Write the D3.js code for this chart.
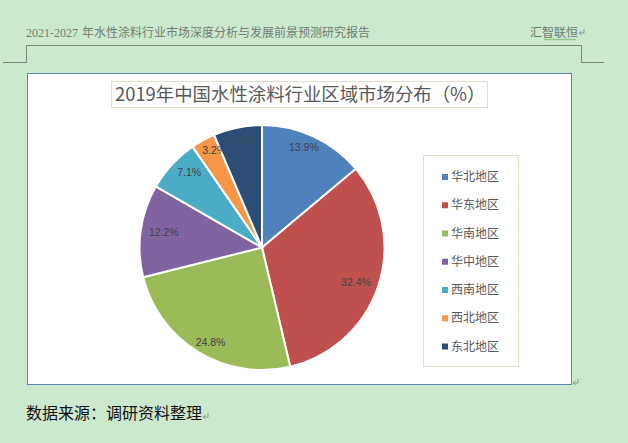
<!DOCTYPE html>
<html>
<head>
<meta charset="utf-8">
<script src="https://cdnjs.cloudflare.com/ajax/libs/d3/7.8.5/d3.min.js"></script>
<style>
    html, body { margin: 0; padding: 0; background: #cce8cf; overflow: hidden; }
    text { font-family: "Noto Sans CJK SC", sans-serif; }
</style>
</head>
<body>
<div id="chart"></div>
<script>
// values
var regions = ["华北地区", "华东地区", "华南地区", "华中地区", "西南地区", "西北地区", "东北地区"];
var shares = [13.9, 32.4, 24.8, 12.2, 7.1, 3.2, 6.4];
var colors = ["#4f81bd", "#c0504d", "#9bbb59", "#8064a2", "#4bacc6", "#f79646", "#2c4d75"];
var labelColors = ["#404040", "#404040", "#404040", "#404040", "#404040", "#404040", "#3f4f63"];

var svgWidth = 628;
var svgHeight = 443;

var svg = d3.select("#chart")
    .append("svg")
    .attr("width", svgWidth)
    .attr("height", svgHeight)
    .style("display", "block");

// page header
svg.append("text")
    .attr("x", 26)
    .attr("y", 36.5)
    .attr("font-size", 12)
    .attr("fill", "#737d73")
    .style("font-family", "'Liberation Serif'")
    .text("2021-2027");

svg.append("text")
    .attr("x", 82)
    .attr("y", 36.5)
    .attr("font-size", 12)
    .attr("fill", "#737d73")
    .text("年水性涂料行业市场深度分析与发展前景预测研究报告");

svg.append("text")
    .attr("x", 530)
    .attr("y", 36.5)
    .attr("font-size", 12)
    .attr("fill", "#6f7a6f")
    .text("汇智联恒");

// wavy spell check line under the name
svg.append("path")
    .attr("d", "M544 40 l2 -1 l2 1 l2 -1 l2 1 l2 -1 l2 1 l2 -1 l2 1 l2 -1 l2 1 l2 -1 l2 1 l2 -1 l2 1 l2 -1 l2 1")
    .attr("fill", "none")
    .attr("stroke", "#6fae5a")
    .attr("stroke-width", 0.8);

// paragraph marks
function returnMark(x, y, color) {
    svg.append("path")
        .attr("d", `M${x + 5} ${y - 4} V${y} H${x}  M${x + 2.5} ${y - 2} L${x} ${y} L${x + 2.5} ${y + 2}`)
        .attr("fill", "none")
        .attr("stroke", color)
        .attr("stroke-width", 0.8);
}
returnMark(579, 33, "#808a80");
returnMark(573, 383, "#808a80");
returnMark(203, 417, "#808a80");

// header rule
svg.append("path")
    .attr("d", "M3 62.5 H26.5 V45.5 H581.5 V62.5 H604")
    .attr("fill", "none")
    .attr("stroke", "#7a857a")
    .attr("stroke-width", 1);

// chart frame
svg.append("rect")
    .attr("x", 27.5)
    .attr("y", 73.5)
    .attr("width", 544)
    .attr("height", 311)
    .attr("fill", "#fff")
    .attr("stroke", "#5b88ad")
    .attr("stroke-width", 1);

// title box
svg.append("rect")
    .attr("x", 111.5)
    .attr("y", 81.5)
    .attr("width", 376)
    .attr("height", 26)
    .attr("fill", "#fff")
    .attr("stroke", "#e0e0cc")
    .attr("stroke-width", 1);

svg.append("text")
    .attr("x", 115)
    .attr("y", 101)
    .attr("font-size", 18.4)
    .attr("fill", "#595959")
    .text("2019年中国水性涂料行业区域市场分布（%）");

// pie
var radius = 122.5;
var pieGroup = svg.append("g")
    .attr("transform", "translate(262, 247.5)");

var pie = d3.pie().sort(null);
var arc = d3.arc().innerRadius(0).outerRadius(radius);
var labelArc = d3.arc().innerRadius(radius * 0.86).outerRadius(radius * 0.86);

var slices = pie(shares);

pieGroup.selectAll("path")
    .data(slices)
    .enter()
    .append("path")
    .attr("d", arc)
    .attr("fill", (d, i) => colors[i])
    .attr("stroke", "#fff")
    .attr("stroke-width", 2);

// labels sit on a slightly squashed ring in the original
pieGroup.selectAll("text")
    .data(slices)
    .enter()
    .append("text")
    .attr("transform", function (d) {
        var c = labelArc.centroid(d);
        return `translate(${c[0] * 0.94}, ${c[1] * 1.05})`;
    })
    .attr("text-anchor", "middle")
    .attr("dy", "0.35em")
    .attr("font-size", 10.5)
    .attr("fill", (d, i) => labelColors[i])
    .style("font-family", "'Liberation Sans'")
    .text(d => d.data.toFixed(1) + "%");

// legend
svg.append("rect")
    .attr("x", 423.5)
    .attr("y", 155.5)
    .attr("width", 95)
    .attr("height", 211)
    .attr("fill", "#fff")
    .attr("stroke", "#e0e0cc")
    .attr("stroke-width", 1);

var legendY = d3.scalePoint()
    .domain(regions)
    .range([177, 346.5]);

var legendRows = svg.selectAll(".legend-row")
    .data(regions)
    .enter()
    .append("g")
    .attr("class", "legend-row")
    .attr("transform", d => `translate(442, ${legendY(d)})`);

legendRows.append("rect")
    .attr("x", 0)
    .attr("y", -3)
    .attr("width", 6)
    .attr("height", 6)
    .attr("fill", (d, i) => colors[i]);

legendRows.append("text")
    .attr("x", 9)
    .attr("dy", "0.35em")
    .attr("font-size", 12)
    .attr("fill", "#595959")
    .text(d => d);

// source note
svg.append("text")
    .attr("x", 26)
    .attr("y", 419)
    .attr("font-size", 16)
    .attr("fill", "#111")
    .text("数据来源：调研资料整理");
</script>
</body>
</html>
